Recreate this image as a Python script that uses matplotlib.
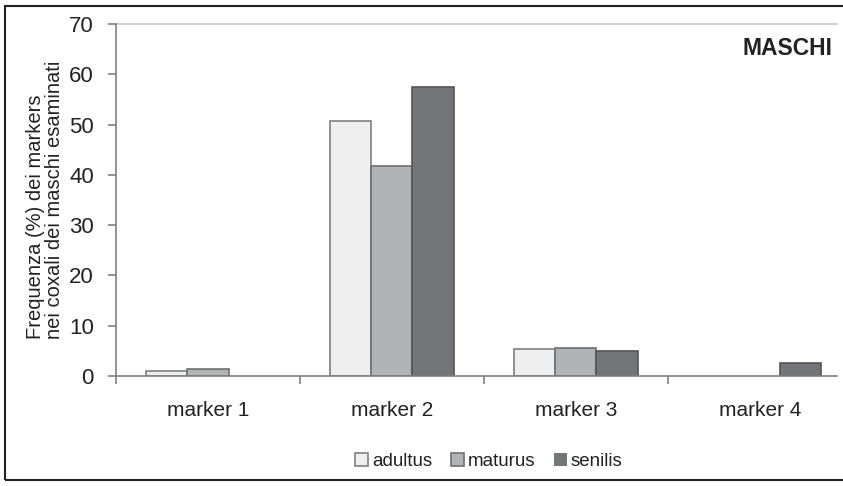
import numpy as np
import matplotlib.pyplot as plt
from matplotlib.patches import Rectangle

plt.rcParams['font.family'] = ['Liberation Sans', 'DejaVu Sans']

categories = ['marker 1', 'marker 2', 'marker 3', 'marker 4']
series = ['adultus', 'maturus', 'senilis']
adultus = [1.0, 50.7, 5.4, 0.0]
maturus = [1.4, 41.8, 5.6, 0.0]
senilis = [0.0, 57.5, 5.0, 2.6]

fills = ['#efefef', '#b1b4b7', '#737579']
edges = ['#808080', '#707070', '#555555']

fig = plt.figure(figsize=(8.43, 4.86), dpi=100)
# plot area runs a bit past the right edge of the picture (cropped original)
ax = fig.add_axes([0.1376, 0.2263, 0.873, 0.7243])

x = np.arange(len(categories))
w = 0.223
for i, (vals, name) in enumerate(zip([adultus, maturus, senilis], series)):
    lws = [1.2 if v > 0 else 0 for v in vals]
    ax.bar(x + (i - 1) * w, vals, w, color=fills[i], edgecolor=edges[i],
           linewidth=lws, label=name)

right_end = 3.418
ax.set_xlim(-0.5, 3.5)
ax.set_ylim(0, 70)
ax.set_yticks(range(0, 71, 10))
ax.plot([-0.5, right_end], [70, 70], color='#c8c8c8', lw=1.2, zorder=0, clip_on=False)

ax.set_xticks(x)
ax.set_xticklabels(categories, fontsize=15, color='#222222')
ax.set_xticks(np.arange(-0.5, 3.0, 1), minor=True)
ax.tick_params(axis='x', which='major', length=0, pad=18)
ax.tick_params(axis='x', which='minor', length=6, color='#808080', width=1.2)
ax.tick_params(axis='y', length=6, color='#808080', width=1.2, labelsize=16,
               labelcolor='#222222', pad=10)

for s in ['top', 'right']:
    ax.spines[s].set_visible(False)
for s in ['left', 'bottom']:
    ax.spines[s].set_color('#808080')
    ax.spines[s].set_linewidth(1.2)
ax.spines['bottom'].set_bounds(-0.5, right_end)

ax.set_ylabel('Frequenza (%) dei markers\nnei coxali dei maschi esaminati',
              fontsize=14.5, color='#222222', linespacing=1.0,
              multialignment='left')
ax.yaxis.set_label_coords(-0.070, 0.5)

ax.text(0.974, 0.93, 'MASCHI', transform=ax.transAxes, ha='right', va='center',
        fontsize=16.5, fontweight='bold', color='#222222')

leg = fig.legend(loc='center', bbox_to_anchor=(0.58, 0.05), ncol=3, frameon=False,
                 fontsize=13.5, handlelength=0.7, handleheight=0.7,
                 handletextpad=0.2, columnspacing=1.0)
for t in leg.get_texts():
    t.set_color('#222222')

fig.patches.append(Rectangle((0.006, 0.012), 1.1, 0.976, transform=fig.transFigure,
                             fill=False, edgecolor='#222222', lw=1.5))

fig.savefig('out.png', dpi=100)
